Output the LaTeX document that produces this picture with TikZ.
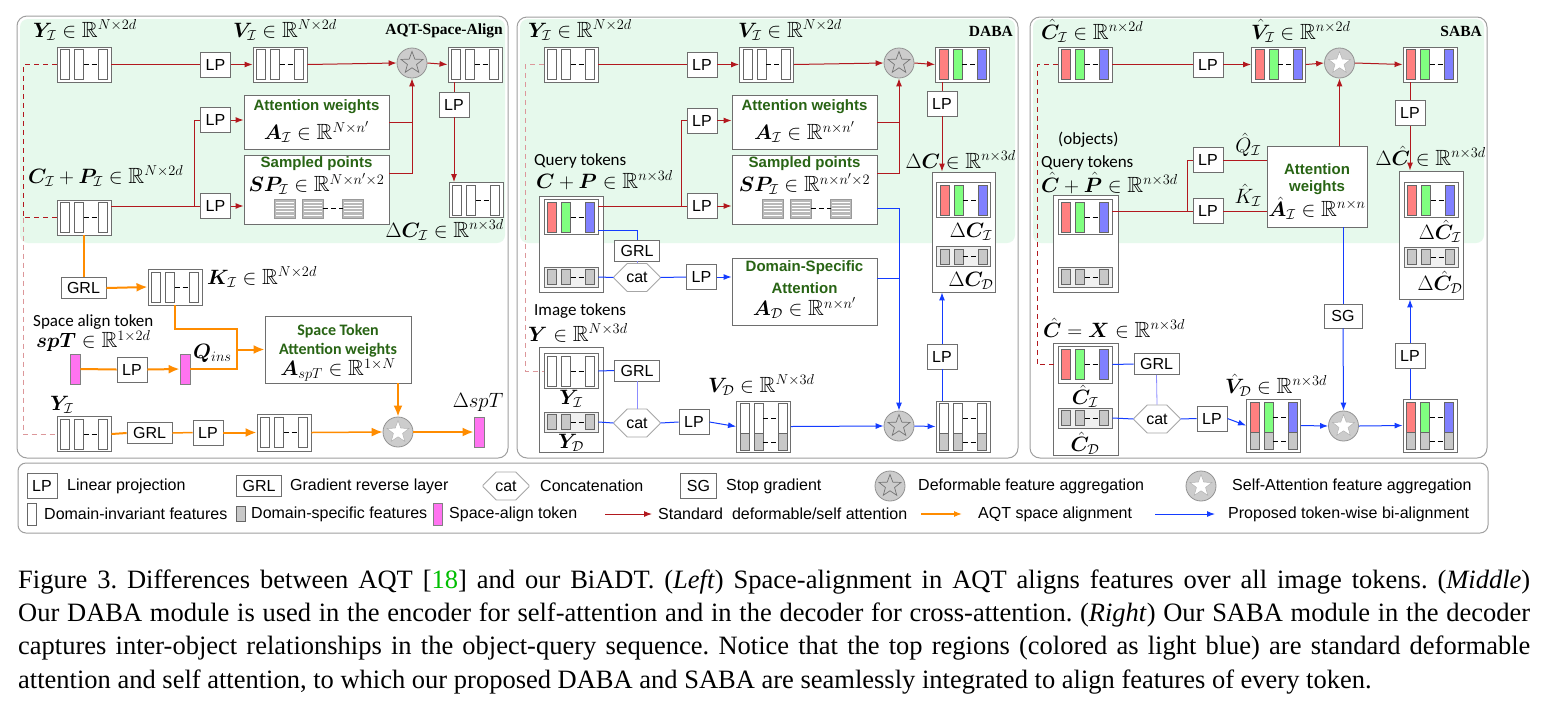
\documentclass[tikz,border=0pt]{standalone}
\usepackage{amsmath,amssymb,bm}
\usepackage{fontspec}
\newfontfamily\arialf{Liberation Sans}
\newfontfamily\calf{Carlito}
\newfontfamily\capfont{Liberation Serif}
\usetikzlibrary{arrows.meta,calc,shapes.geometric,shapes.misc}

\definecolor{bgreen}{RGB}{230,249,236}
\definecolor{rline}{RGB}{178,24,30}
\definecolor{bline}{RGB}{20,60,255}
\definecolor{oline}{RGB}{255,140,0}
\definecolor{gtext}{RGB}{40,100,20}
\definecolor{boxgray}{RGB}{110,110,110}
\definecolor{barr}{RGB}{255,128,128}
\definecolor{barg}{RGB}{128,255,128}
\definecolor{barb}{RGB}{128,128,255}
\definecolor{barG}{RGB}{200,200,200}
\definecolor{pinkt}{RGB}{255,115,240}
\definecolor{cgreen}{RGB}{0,190,0}

% three full-height bars of a feature box
\newcommand\featbars[4]{%
  \foreach \dx/\fc in {-19/#2,-5/#3,19/#4}{%
    \draw[barln,fill=\fc] ($(#1.center)+(\dx-4.5,-15)$) rectangle ++(9,30);}
  \draw[dashln] ($(#1.center)+(-0.5,0)$) -- ++(15,0);}
% short gray bars (domain-specific part)
\newcommand\featsmall[1]{%
  \foreach \dx in {-19,-5,19}{%
    \draw[barln,fill=barG] ($(#1.center)+(\dx-4.5,-7.5)$) rectangle ++(9,15);}
  \draw[dashln] ($(#1.center)+(-0.5,0)$) -- ++(15,0);}
% tall bars, invariant top and specific (gray) bottom
\newcommand\featsplit[4]{%
  \foreach \dx/\fc in {-19/#2,-5/#3,19/#4}{%
    \draw[barln,fill=\fc] ($(#1.center)+(\dx-4.5,-23)$) rectangle ++(9,47);
    \draw[barln,fill=barG] ($(#1.center)+(\dx-4.5,7)$) rectangle ++(9,17);}
  \draw[dashln] ($(#1.center)+(-0.5,-8)$) -- ++(15,0);
  \draw[dashln] ($(#1.center)+(-0.5,16)$) -- ++(15,0);}
% sampled-point squares around a centre coordinate
\newcommand\sampsq[1]{%
  \foreach \dx in {-32,-4,36.5}{%
    \fill[gray!55] ($(#1)+(\dx-10.5,-9.5)$) rectangle ++(21,19);
    \foreach \dy in {-6.5,-3.2,0,3.2,6.5}{%
      \draw[white,line width=0.6pt] ($(#1)+(\dx-9,\dy)$) -- ++(18,0);}
    \draw[gray!80,line width=0.6pt] ($(#1)+(\dx-10.5,-9.5)$) rectangle ++(21,19);}
  \draw[dashln] ($(#1)+(6.5,0)$) -- ++(19.5,0);}

\begin{document}
\frenchspacing
\begin{tikzpicture}[x=1pt,y=-1pt,
  >={Latex[length=8pt,width=6pt]},
  fbox/.style={draw=boxgray,fill=white,line width=0.9pt,minimum width=54pt,minimum height=35pt,inner sep=0pt},
  ibox/.style={fbox,minimum height=20pt,fill=gray!12},
  obox/.style={draw=boxgray,fill=white,line width=0.9pt,inner sep=0pt},
  opbox/.style={draw=boxgray,fill=white,line width=0.9pt,minimum width=30pt,minimum height=25pt,inner sep=0pt,font=\arialf\fontsize{16}{16}\selectfont},
  grlbox/.style={opbox,minimum width=45pt,minimum height=21pt},
  catbox/.style={chamfered rectangle,chamfered rectangle xsep=9pt,chamfered rectangle ysep=8pt,draw=gray!70,fill=white,line width=0.9pt,minimum width=46pt,minimum height=28pt,inner sep=0pt,font=\arialf\fontsize{16}{16}\selectfont},
  aggc/.style={circle,fill=gray!40,draw=gray!85,line width=0.8pt,minimum size=30pt,inner sep=0pt},
  dstar/.style={star,star points=5,star point ratio=2.4,minimum size=23pt,inner sep=0pt,draw=gray!90!black,line width=0.7pt},
  wstar/.style={star,star points=5,star point ratio=2.4,minimum size=23pt,inner sep=0pt,fill=white,draw=gray!60,line width=0.5pt},
  lab/.style={inner sep=0pt,font=\fontsize{22}{24}\selectfont},
  gt/.style={inner sep=0pt,text=gtext,font=\arialf\bfseries\fontsize{15}{17}\selectfont},
  gtc/.style={inner sep=0pt,text=gtext,font=\calf\bfseries\fontsize{16}{18}\selectfont},
  sl/.style={inner sep=0pt,font=\calf\fontsize{17}{19}\selectfont},
  ttl/.style={inner sep=0pt,font=\capfont\bfseries\fontsize{15.5}{17}\selectfont},
  lgt/.style={inner sep=0pt,anchor=west,font=\arialf\fontsize{16}{18}\selectfont},
  pbar/.style={draw=gray,fill=pinkt,line width=0.8pt,minimum width=10pt,minimum height=30pt,inner sep=0pt},
  rl/.style={rline,line width=1pt},
  bl/.style={bline,line width=1pt},
  blt/.style={blue!45,line width=0.8pt},
  ol/.style={oline,line width=2pt},
  oa/.style={ol,-{Latex[length=11pt,width=9pt]}},
  ba/.style={bl,->},
  dl1/.style={rline,line width=1pt,dash pattern=on 5pt off 4pt},
  dl2/.style={rline!45,line width=1pt,dash pattern=on 5pt off 4pt},
  frame/.style={draw=gray!75,line width=1pt,rounded corners=10pt},
  barln/.style={draw=gray!80!black,line width=0.8pt},
  dashln/.style={black,line width=0.8pt,dash pattern=on 5pt off 3pt},
]
\useasboundingbox (0,0) rectangle (1546,713);
\fill[white] (0,0) rectangle (1546,713);

%% ---------------- AQT-Space-Align ----------------
\fill[bgreen,rounded corners=8pt] (20,19) rectangle (505,243);
\draw[frame] (17,16) rectangle (508,458);

\node[fbox] (yI1) at (84,64.5) {}; \featbars{yI1}{white}{white}{white}
\node[lab,anchor=west] (yI1l) at (33,30) {$\bm{Y}_{\mathcal{I}}\in\mathbb{R}^{N\times 2d}$};
\node[opbox] (lpA1) at (215.5,64.5) {LP};
\node[fbox] (vI1) at (280,64.5) {}; \featbars{vI1}{white}{white}{white}
\node[lab,anchor=west] (vI1l) at (233,30) {$\bm{V}_{\mathcal{I}}\in\mathbb{R}^{N\times 2d}$};
\node[aggc] (st1) at (412,63) {}; \node[dstar] (st1s) at (412,63) {};
\node[fbox] (o1) at (475,64.5) {}; \featbars{o1}{white}{white}{white}
\node[ttl,anchor=east] (t1) at (503,31) {AQT-Space-Align};
\node[opbox] (lpB1) at (215.5,120) {LP};
\node[opbox] (lpC1) at (215.5,206) {LP};
\node[obox,minimum width=145pt,minimum height=54pt] (aw1) at (316.5,122) {};
\node[gt] (aw1t) at (316.5,107) {Attention weights};
\node[lab] (aw1m) at (316.5,132) {$\bm{A}_{\mathcal{I}}\in\mathbb{R}^{N\times n'}$};
\node[obox,minimum width=145pt,minimum height=69pt] (sp1) at (316.5,189.5) {};
\node[gt] (sp1t) at (316.5,164) {Sampled points};
\node[lab] (sp1m) at (316.5,184) {$\bm{SP}_{\mathcal{I}}\in\mathbb{R}^{N\times n'\times 2}$};
\coordinate (sq1) at (316.5,208.5); \sampsq{sq1}
\node[fbox] (cI1) at (84,217.5) {}; \featbars{cI1}{white}{white}{white}
\node[lab,anchor=west] (cI1l) at (28,176) {$\bm{C}_{\mathcal{I}}+\bm{P}_{\mathcal{I}}\in\mathbb{R}^{N\times 2d}$};
\node[opbox] (lpD1) at (454,104.5) {LP};
\node[fbox] (dC1) at (476,200) {}; \featbars{dC1}{white}{white}{white}
\node[lab,anchor=east] (dC1l) at (504,230) {$\Delta\bm{C}_{\mathcal{I}}\in\mathbb{R}^{n\times 3d}$};

\draw[rl] (yI1.east) -- (lpA1.west);
\draw[rl,->] (lpA1.east) -- (vI1.west);
\draw[rl,->] (vI1.east) -- (st1.west);
\draw[rl,->] (st1.east) -- (o1.west);
\coordinate (j1) at (194,206);
\draw[rl] (cI1.east |- lpC1) -- (lpC1.west);
\draw[rl] (j1) |- (lpB1.west);
\draw[rl,->] (lpB1.east) -- (aw1.west |- lpB1);
\draw[rl,->] (lpC1.east) -- (sp1.west |- lpC1);
\draw[rl] (aw1.east) -- (aw1.east -| st1);
\draw[rl,->] ($(sp1.east)+(0,-16.5)$) -| (st1.south);
\draw[rl] (o1.south -| lpD1) -- (lpD1.north);
\draw[rl,->] (lpD1.south) -- (dC1.north -| lpD1);

% alignment branch
\node[grlbox] (grl1) at (83.5,288) {GRL};
\node[fbox,minimum height=36pt] (kI1) at (175,287) {}; \featbars{kI1}{white}{white}{white}
\node[lab,anchor=west] (kI1l) at (207,277) {$\bm{K}_{\mathcal{I}}\in\mathbb{R}^{N\times 2d}$};
\node[sl,anchor=west] (spl) at (33,322) {Space align token};
\node[lab,anchor=west] (spm) at (36,341) {$\bm{spT}\in\mathbb{R}^{1\times 2d}$};
\node[pbar] (spb) at (75,369) {};
\node[opbox] (lpE1) at (132,369.5) {LP};
\node[pbar] (qb) at (185,369) {};
\node[lab,anchor=west] (ql) at (193,353) {$\bm{Q}_{ins}$};
\node[obox,minimum width=146pt,minimum height=67pt] (stk) at (338,349.5) {};
\node[gtc] (stk1) at (338,331) {Space Token};
\node[gtc] (stk2) at (338,350) {Attention weights};
\node[lab] (stk3) at (338,370) {$\bm{A}_{spT}\in\mathbb{R}^{1\times N}$};
\node[lab,anchor=west] (yIbl) at (50,405) {$\bm{Y}_{\mathcal{I}}$};
\node[fbox] (yIb) at (84,434) {}; \featbars{yIb}{white}{white}{white}
\node[grlbox] (grl2) at (149.5,433) {GRL};
\node[opbox] (lpF1) at (208,432.5) {LP};
\node[fbox,minimum height=37pt] (vb1) at (284,432.5) {}; \featbars{vb1}{white}{white}{white}
\node[aggc] (st2) at (398,432) {}; \node[wstar] (st2s) at (398,432) {};
\node[pbar] (dsp) at (479,432) {};
\node[lab] (dspl) at (478,402) {$\Delta spT$};

\draw[ol] (cI1.south -| grl1) -- (grl1.north);
\draw[oa] (grl1.east) -- (kI1.west);
\coordinate (jk) at (237,329);
\coordinate (jo) at (237,349.5);
\draw[ol] (kI1.south) |- (jk) -- (jk |- qb) -- (qb.east);
\draw[oa] (jo) -- (stk.west);
\draw[ol] (spb.east) -- (lpE1.west);
\draw[oa] (lpE1.east) -- (qb.west);
\draw[ol] (yIb.east) -- (grl2.west);
\draw[ol,line width=1.5pt] (grl2.east) -- (lpF1.west);
\draw[oa] (lpF1.east) -- (vb1.west);
\draw[oa,line width=1.5pt] (vb1.east) -- (st2.west);
\draw[oa] (st2.east) -- (dsp.west);
\draw[oa] (stk.south -| st2) -- (st2.north);

\draw[dl1] (yI1.west) -- (23,64.5) |- (cI1.west);
\draw[dl2] (23,217.5) |- (yIb.west);

%% ---------------- DABA ----------------
\fill[bgreen,rounded corners=8pt] (520,19) rectangle (1015,243);
\draw[frame] (517,17) rectangle (1018,458);

\node[fbox] (yI2) at (571,64.5) {}; \featbars{yI2}{white}{white}{white}
\node[lab,anchor=west] (yI2l) at (528,30) {$\bm{Y}_{\mathcal{I}}\in\mathbb{R}^{N\times 2d}$};
\node[opbox] (lpA2) at (702,64.5) {LP};
\node[fbox] (vI2) at (766.5,64.5) {}; \featbars{vI2}{white}{white}{white}
\node[lab,anchor=west] (vI2l) at (738,30) {$\bm{V}_{\mathcal{I}}\in\mathbb{R}^{N\times 2d}$};
\node[aggc] (st3) at (899,63) {}; \node[dstar] (st3s) at (899,63) {};
\node[fbox] (o2) at (962.5,64.5) {}; \featbars{o2}{barr}{barg}{barb}
\node[ttl,anchor=east] (t2) at (1013,31) {DABA};
\node[opbox] (lpD2) at (942,103.5) {LP};
\node[obox,minimum width=63pt,minimum height=120pt] (dC2) at (963.5,232) {};
\node[fbox] (dC2a) at (963.5,200) {}; \featbars{dC2a}{barr}{barg}{barb}
\node[lab] (dC2al) at (971,232) {$\Delta\bm{C}_{\mathcal{I}}$};
\node[ibox] (dC2b) at (963.5,256.5) {}; \featsmall{dC2b}
\node[lab] (dC2bl) at (971,281) {$\Delta\bm{C}_{\mathcal{D}}$};
\node[lab,anchor=east] (dC2l) at (1016,160) {$\Delta\bm{C}\in\mathbb{R}^{n\times 3d}$};
\node[opbox] (lpB2) at (702,120.5) {LP};
\node[opbox] (lpC2) at (702,206) {LP};
\node[obox,minimum width=145pt,minimum height=54pt] (aw2) at (804.5,122) {};
\node[gt] (aw2t) at (804.5,107) {Attention weights};
\node[lab] (aw2m) at (804.5,132) {$\bm{A}_{\mathcal{I}}\in\mathbb{R}^{n\times n'}$};
\node[obox,minimum width=145pt,minimum height=69pt] (sp2) at (804.5,189.5) {};
\node[gt] (sp2t) at (804.5,164) {Sampled points};
\node[lab] (sp2m) at (804.5,184) {$\bm{SP}_{\mathcal{I}}\in\mathbb{R}^{n\times n'\times 2}$};
\coordinate (sq2) at (804.5,208.5); \sampsq{sq2}
\node[sl,anchor=west] (qt2) at (534,161) {Query tokens};
\node[lab,anchor=west] (cp2l) at (536,180) {$\bm{C}+\bm{P}\in\mathbb{R}^{n\times 3d}$};
\node[obox,minimum width=64pt,minimum height=96pt] (cp2) at (571,244) {};
\node[fbox] (cp2a) at (571,217) {}; \featbars{cp2a}{barr}{barg}{barb}
\node[ibox] (cp2b) at (571,277) {}; \featsmall{cp2b}
\node[grlbox] (grl3) at (637,250.5) {GRL};
\node[catbox] (cat1) at (637,277.5) {cat};
\node[opbox] (lpG2) at (701.5,277) {LP};
\node[obox,minimum width=145pt,minimum height=67pt] (dom2) at (804.5,291.5) {};
\node[gt] (dom2a) at (804.5,268) {Domain-Specific};
\node[gt] (dom2b) at (804.5,288) {Attention};
\node[lab] (dom2m) at (804.5,308) {$\bm{A}_{\mathcal{D}}\in\mathbb{R}^{n\times n'}$};
\node[aggc] (st4) at (899,426) {}; \node[dstar] (st4s) at (899,426) {};
\node[sl,anchor=west] (it2) at (534,311) {Image tokens};
\node[lab,anchor=west] (y2l) at (528,333) {$\bm{Y}\in\mathbb{R}^{N\times 3d}$};
\node[obox,minimum width=64pt,minimum height=105pt] (y2) at (571,399.5) {};
\node[fbox] (y2a) at (571,371) {}; \featbars{y2a}{white}{white}{white}
\node[lab] (y2al) at (571,399) {$\bm{Y}_{\mathcal{I}}$};
\node[ibox] (y2b) at (571,422) {}; \featsmall{y2b}
\node[lab] (y2bl) at (571,443) {$\bm{Y}_{\mathcal{D}}$};
\node[grlbox] (grl4) at (637,370.5) {GRL};
\node[catbox] (cat2) at (637,423) {cat};
\node[opbox] (lpH2) at (694,422) {LP};
\node[fbox,minimum height=51pt] (vD2) at (763.5,426.5) {}; \featsplit{vD2}{white}{white}{white}
\node[lab,anchor=west] (vD2l) at (708,385) {$\bm{V}_{\mathcal{D}}\in\mathbb{R}^{N\times 3d}$};
\node[fbox,minimum height=51pt] (o2b) at (963,426.5) {}; \featsplit{o2b}{white}{white}{white}
\node[opbox] (lpI2) at (942,356.5) {LP};

\draw[rl] (yI2.east) -- (lpA2.west);
\draw[rl,->] (lpA2.east) -- (vI2.west);
\draw[rl,->] (vI2.east) -- (st3.west);
\draw[rl,->] (st3.east) -- (o2.west);
\draw[rl] (o2.south -| lpD2) -- (lpD2.north);
\draw[rl,->] (lpD2.south) -- (dC2.north -| lpD2);
\coordinate (j2) at (681,206);
\draw[rl] (cp2a.east |- lpC2) -- (lpC2.west);
\draw[rl] (j2) |- (lpB2.west);
\draw[rl,->] (lpB2.east) -- (aw2.west |- lpB2);
\draw[rl,->] (lpC2.east) -- (sp2.west |- lpC2);
\draw[rl] (aw2.east) -- (aw2.east -| st3);
\draw[rl,->] ($(sp2.east)+(0,-16.5)$) -| (st3.south);
\draw[bl] ($(cp2a.east)+(0,13)$) -| (grl3.north);
\draw[blt] (grl3.south) -- (cat1.north);
\draw[bl] (cp2b.east) -- (cat1.west);
\draw[bl] (cat1.east) -- (lpG2.west);
\draw[ba] (lpG2.east) -- (dom2.west |- lpG2);
\draw[ba] ($(sp2.east)+(0,18.5)$) -| (st4.north);
\draw[bl] ($(dom2.east)+(0,-13.5)$) -- ($(dom2.east -| st4)+(0,-13.5)$);
\draw[bl] (y2a.east) -- (grl4.west);
\draw[blt] (grl4.south) -- (cat2.north);
\draw[bl] (y2b.east) -- (cat2.west);
\draw[bl] (cat2.east) -- (lpH2.west);
\draw[ba] (lpH2.east) -- (vD2.west);
\draw[ba] (vD2.east) -- (st4.west);
\draw[ba] (st4.east) -- (o2b.west);
\draw[bl] (o2b.north -| lpI2) -- (lpI2.south);
\draw[ba] (lpI2.north) -- (dC2.south -| lpI2);
\draw[dl2] (yI2.west) -- (525,64.5) |- (y2a.west);

%% ---------------- SABA ----------------
\fill[bgreen,rounded corners=8pt] (1033,19) rectangle (1484,243);
\draw[frame] (1030,17) rectangle (1487,458);

\node[fbox] (ch3) at (1085,64.5) {}; \featbars{ch3}{barr}{barg}{barb}
\node[lab,anchor=west] (ch3l) at (1041,31) {$\hat{\bm{C}}_{\mathcal{I}}\in\mathbb{R}^{n\times 2d}$};
\node[opbox] (lpA3) at (1208,64.5) {LP};
\node[fbox] (vh3) at (1278.5,64.5) {}; \featbars{vh3}{barr}{barg}{barb}
\node[lab,anchor=west] (vh3l) at (1251,31) {$\hat{\bm{V}}_{\mathcal{I}}\in\mathbb{R}^{n\times 2d}$};
\node[aggc] (st5) at (1339.5,63) {}; \node[wstar] (st5s) at (1339.5,63) {};
\node[fbox] (o3) at (1430,64.5) {}; \featbars{o3}{barr}{barg}{barb}
\node[ttl,anchor=east] (t3) at (1482,31) {SABA};
\node[opbox] (lpD3) at (1410,113) {LP};
\node[obox,minimum width=64pt,minimum height=128pt] (dC3) at (1431,235) {};
\node[fbox] (dC3a) at (1431,200) {}; \featbars{dC3a}{barr}{barg}{barb}
\node[lab] (dC3al) at (1440,231) {$\Delta\hat{\bm{C}}_{\mathcal{I}}$};
\node[ibox] (dC3b) at (1431,257) {}; \featsmall{dC3b}
\node[lab] (dC3bl) at (1440,282) {$\Delta\hat{\bm{C}}_{\mathcal{D}}$};
\node[lab,anchor=east] (dC3l) at (1486,156) {$\Delta\hat{\bm{C}}\in\mathbb{R}^{n\times 3d}$};
\node[sl,anchor=west] (ob3) at (1058,140) {(objects)};
\node[sl,anchor=west] (qt3) at (1041,163) {Query tokens};
\node[lab,anchor=west] (cp3l) at (1041,183) {$\hat{\bm{C}}+\hat{\bm{P}}\in\mathbb{R}^{n\times 3d}$};
\node[obox,minimum width=65pt,minimum height=97pt] (cp3) at (1085.5,243.5) {};
\node[fbox] (cp3a) at (1085,217) {}; \featbars{cp3a}{barr}{barg}{barb}
\node[ibox] (cp3b) at (1085,277) {}; \featsmall{cp3b}
\node[opbox] (lpB3) at (1208,160) {LP};
\node[opbox] (lpC3) at (1208,211) {LP};
\node[lab] (qh3) at (1248,145) {$\hat{Q}_{\mathcal{I}}$};
\node[lab] (kh3) at (1248,195) {$\hat{K}_{\mathcal{I}}$};
\node[obox,minimum width=100pt,minimum height=81pt] (aw3) at (1317,186.5) {};
\node[gt] (aw3a) at (1317,169) {Attention};
\node[gt] (aw3b) at (1317,188) {weights};
\node[lab] (aw3m) at (1317,208) {$\hat{\bm{A}}_{\mathcal{I}}\in\mathbb{R}^{n\times n}$};
\node[opbox,minimum width=38pt,minimum height=24pt] (sg3) at (1343,316) {SG};
\node[aggc] (st6) at (1343.5,426) {}; \node[wstar] (st6s) at (1343.5,426) {};
\node[lab,anchor=west] (cx3l) at (1043,328) {$\hat{\bm{C}}=\bm{X}\in\mathbb{R}^{n\times 3d}$};
\node[obox,minimum width=65pt,minimum height=112pt] (cx3) at (1085.5,399) {};
\node[fbox,minimum height=37pt] (cx3a) at (1085,364.5) {}; \featbars{cx3a}{barr}{barg}{barb}
\node[lab] (cx3al) at (1085,396) {$\hat{\bm{C}}_{\mathcal{I}}$};
\node[ibox] (cx3b) at (1085,418) {}; \featsmall{cx3b}
\node[lab] (cx3bl) at (1085,443) {$\hat{\bm{C}}_{\mathcal{D}}$};
\node[grlbox] (grl5) at (1156.5,364) {GRL};
\node[catbox] (cat3) at (1157,419) {cat};
\node[opbox] (lpH3) at (1212,418.5) {LP};
\node[fbox,minimum height=53pt] (vhD3) at (1273.5,425.5) {}; \featsplit{vhD3}{barr}{barg}{barb}
\node[lab,anchor=west] (vhD3l) at (1225,385) {$\hat{\bm{V}}_{\mathcal{D}}\in\mathbb{R}^{n\times 3d}$};
\node[fbox,minimum height=53pt] (o3b) at (1430,425.5) {}; \featsplit{o3b}{barr}{barg}{barb}
\node[opbox] (lpI3) at (1410,356) {LP};

\draw[rl] (ch3.east) -- (lpA3.west);
\draw[rl,->] (lpA3.east) -- (vh3.west);
\draw[rl,->] (vh3.east) -- (st5.west);
\draw[rl,->] (st5.east) -- (o3.west);
\draw[rl] (o3.south -| lpD3) -- (lpD3.north);
\draw[rl,->] (lpD3.south) -- (dC3.north -| lpD3);
\coordinate (j3) at (1187,211);
\draw[rl] (cp3a.east |- lpC3) -- (lpC3.west);
\draw[rl] (j3) |- (lpB3.west);
\draw[rl] (lpB3.east) -- (aw3.west |- lpB3);
\draw[rl] (lpC3.east) -- (aw3.west |- lpC3);
\draw[rl,->] (aw3.north -| st5) -- (st5.south);
\draw[bl] (aw3.south -| sg3) -- (sg3.north);
\draw[ba] (sg3.south) -- (st6.north);
\draw[bl] (cx3a.east) -- (grl5.west);
\draw[blt] (grl5.south) -- (cat3.north);
\draw[bl] (cx3b.east) -- (cat3.west);
\draw[bl] (cat3.east) -- (lpH3.west);
\draw[ba] (lpH3.east) -- (vhD3.west);
\draw[ba] (vhD3.east) -- (st6.west);
\draw[ba] (st6.east) -- (o3b.west);
\draw[bl] (o3b.north -| lpI3) -- (lpI3.south);
\draw[ba] (lpI3.north) -- (dC3.south -| lpI3);
\draw[dl1] (ch3.west) -- (1037,64.5) |- (cx3a.west);

%% ---------------- legend ----------------
\draw[draw=gray!75,line width=1pt,rounded corners=8pt] (18,463) rectangle (1488,533);
\node[opbox] (lgLP) at (42,486) {LP};
\node[lgt] (lgLPt) at (67,486) {Linear projection};
\node[grlbox] (lgGRL) at (259,486) {GRL};
\node[lgt] (lgGRLt) at (290,486) {Gradient reverse layer};
\node[catbox] (lgcat) at (506,486) {cat};
\node[lgt] (lgcatt) at (540,486) {Concatenation};
\node[opbox,minimum width=36pt] (lgSG) at (698.5,486) {SG};
\node[lgt] (lgSGt) at (726,486) {Stop gradient};
\node[aggc] (lgd) at (890,486) {}; \node[dstar] (lgds) at (890,486) {};
\node[lgt] (lgdt) at (918,486) {Deformable feature aggregation};
\node[aggc] (lgs) at (1201,486) {}; \node[wstar] (lgss) at (1201,486) {};
\node[lgt] (lgst) at (1232,486) {Self-Attention feature aggregation};
\node[draw=gray!80!black,fill=white,line width=0.8pt,minimum width=9pt,minimum height=22pt,inner sep=0pt] (lgw) at (32,514) {};
\node[lgt] (lgwt) at (44,514) {Domain-invariant features};
\node[draw=gray!80!black,fill=barG,line width=0.8pt,minimum width=9pt,minimum height=15pt,inner sep=0pt] (lgg) at (241,514) {};
\node[lgt] (lggt) at (251,514) {Domain-specific features};
\node[pbar,minimum height=22pt,minimum width=9pt] (lgp) at (438,514) {};
\node[lgt] (lgpt) at (449,514) {Space-align token};
\coordinate (lgr1) at (605,514); \coordinate (lgr2) at (652,514);
\draw[rl,->] (lgr1) -- (lgr2);
\node[lgt] (lgrt) at (658,514) {Standard\ \ deformable/self attention};
\coordinate (lgo1) at (921,514); \coordinate (lgo2) at (962,514);
\draw[ol,line width=1.2pt,-{Latex[length=8pt,width=6pt]}] (lgo1) -- (lgo2);
\node[lgt] (lgot) at (978,514) {AQT space alignment};
\coordinate (lgb1) at (1155,514); \coordinate (lgb2) at (1215,514);
\draw[ba] (lgb1) -- (lgb2);
\node[lgt] (lgbt) at (1228,514) {Proposed token-wise bi-alignment};

%% ---------------- caption ----------------
\begin{scope}[every node/.style={anchor=base west,inner sep=0pt,font=\capfont\fontsize{26.5}{26.5}\selectfont}]
\node (cap1) at (18,588) {\makebox[1512pt][s]{Figure 3. Differences between AQT [\textcolor{cgreen}{18}] and our BiADT. (\textit{Left}) Space-alignment in AQT aligns features over all image tokens. (\textit{Middle})}};
\node (cap2) at (18,621) {\makebox[1512pt][s]{Our DABA module is used in the encoder for self-attention and in the decoder for cross-attention. (\textit{Right}) Our SABA module in the decoder}};
\node (cap3) at (18,654) {\makebox[1512pt][s]{captures inter-object relationships in the object-query sequence. Notice that the top regions (colored as light blue) are standard deformable}};
\node (cap4) at (18,688) {attention and self attention, to which our proposed DABA and SABA are seamlessly integrated to align features of every token.};
\end{scope}
\end{tikzpicture}
\end{document}
